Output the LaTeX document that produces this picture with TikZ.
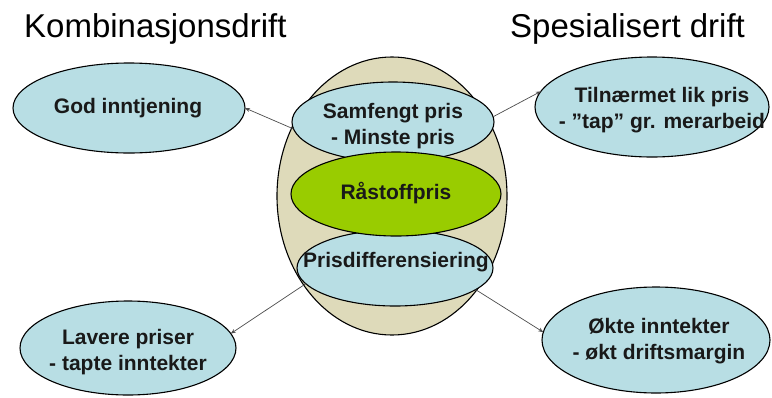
\documentclass[tikz,border=0pt]{standalone}
\usepackage{fontspec}
\setmainfont{Liberation Sans}
\usetikzlibrary{shapes.geometric,arrows.meta}
\definecolor{lblue}{RGB}{184,222,228}
\definecolor{tan}{RGB}{222,218,186}
\definecolor{lgreen}{RGB}{153,204,0}
\definecolor{txt}{RGB}{25,25,25}
\tikzset{
  ell/.style={ellipse, draw=black, line width=1.1pt, inner sep=0pt, outer sep=0pt},
  lbl/.style={align=center, inner sep=0pt, text=txt, font=\fontsize{21}{26}\selectfont\bfseries},
  ttl/.style={anchor=base west, inner sep=0pt, text=black, font=\fontsize{33}{40}\selectfont},
  conn/.style={draw=black!70, line width=0.7pt, -{Stealth[length=5pt,width=4pt]}}
}
\begin{document}
\begin{tikzpicture}[x=1pt,y=-1pt]
\useasboundingbox (0,0) rectangle (772,397);
\fill[white] (0,0) rectangle (772,397);
% titles
\node[ttl] (t1) at (24,37) {Kombinasjonsdrift};
\node[ttl] (t2) at (510,37) {Spesialisert drift};
% centre
\node[ell, fill=tan, minimum width=230pt, minimum height=278pt] (outer) at (392,196) {};
\node[ell, fill=lblue, minimum width=202pt, minimum height=80pt] (top) at (393,122) {};
\node[ell, fill=lblue, minimum width=196pt, minimum height=76pt] (bot) at (395,268) {};
\node[ell, fill=lgreen, minimum width=210pt, minimum height=84pt] (mid) at (396,194) {};
\node[lbl] (toptxt) at (393,126) {Samfengt pris\\- Minste pris};
\node[lbl] (midtxt) at (396,193) {Råstoffpris};
\node[lbl] (bottxt) at (396,262) {Prisdifferensiering};
% outer nodes
\node[ell, fill=lblue, minimum width=232pt, minimum height=90pt] (god) at (129,108) {};
\node[lbl] (godtxt) at (128,108) {God inntjening};
\node[ell, fill=lblue, minimum width=234pt, minimum height=100pt] (til) at (652,107) {};
\node[lbl] (tiltxt) at (662,110) {Tilnærmet lik pris\\- ”tap” gr. merarbeid};
\node[ell, fill=lblue, minimum width=216pt, minimum height=94pt] (lav) at (128,348) {};
\node[lbl] (lavtxt) at (128,352) {Lavere priser\\- tapte inntekter};
\node[ell, fill=lblue, minimum width=228pt, minimum height=106pt] (okt) at (656,340) {};
\node[lbl] (okttxt) at (659,341) {Økte inntekter\\- økt driftsmargin};
% connectors
\draw[conn] (top.184) -- (god.east);
\draw[conn] (top.3) -- (til.172);
\draw[conn] (bot.190) -- (lav.8);
\draw[conn] (bot.345) -- (okt.176);
\end{tikzpicture}
\end{document}
